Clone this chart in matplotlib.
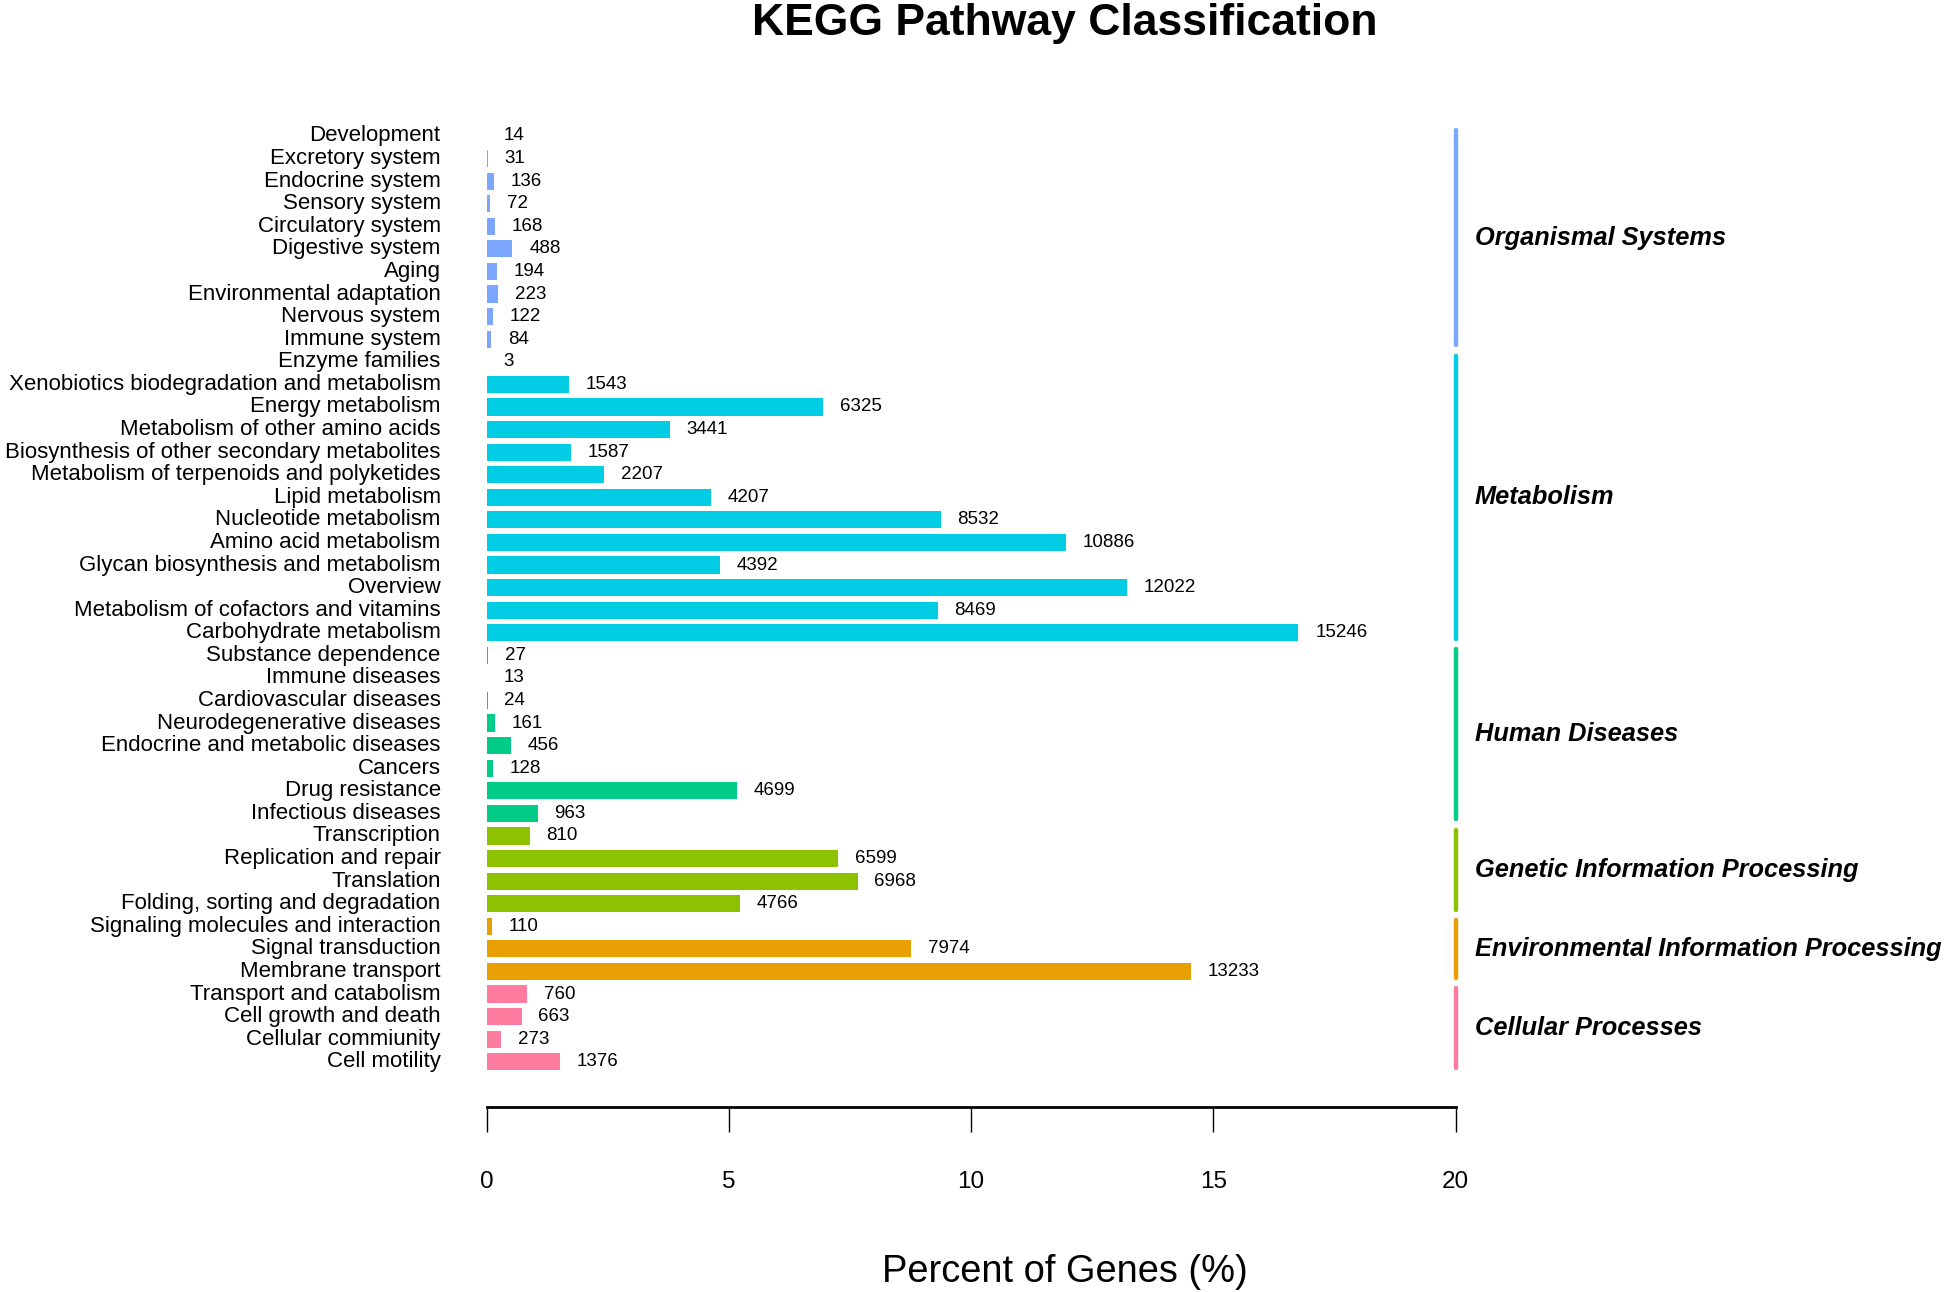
import matplotlib
matplotlib.use("Agg")
import matplotlib.pyplot as plt

plt.rcParams['font.family'] = ['Liberation Sans', 'DejaVu Sans']

# ---- data (top to bottom) ----
org_labels = ["Development", "Excretory system", "Endocrine system", "Sensory system",
              "Circulatory system", "Digestive system", "Aging", "Environmental adaptation",
              "Nervous system", "Immune system"]
org_counts = [14, 31, 136, 72, 168, 488, 194, 223, 122, 84]

met_labels = ["Enzyme families", "Xenobiotics biodegradation and metabolism", "Energy metabolism",
              "Metabolism of other amino acids", "Biosynthesis of other secondary metabolites",
              "Metabolism of terpenoids and polyketides", "Lipid metabolism",
              "Nucleotide metabolism", "Amino acid metabolism",
              "Glycan biosynthesis and metabolism", "Overview",
              "Metabolism of cofactors and vitamins", "Carbohydrate metabolism"]
met_counts = [3, 1543, 6325, 3441, 1587, 2207, 4207, 8532, 10886, 4392, 12022, 8469, 15246]

hd_labels = ["Substance dependence", "Immune diseases", "Cardiovascular diseases",
             "Neurodegenerative diseases", "Endocrine and metabolic diseases", "Cancers",
             "Drug resistance", "Infectious diseases"]
hd_counts = [27, 13, 24, 161, 456, 128, 4699, 963]

gen_labels = ["Transcription", "Replication and repair", "Translation",
              "Folding, sorting and degradation"]
gen_counts = [810, 6599, 6968, 4766]

env_labels = ["Signaling molecules and interaction", "Signal transduction", "Membrane transport"]
env_counts = [110, 7974, 13233]

cel_labels = ["Transport and catabolism", "Cell growth and death", "Cellular commiunity",
              "Cell motility"]
cel_counts = [760, 663, 273, 1376]

group_names = ["Organismal Systems", "Metabolism", "Human Diseases",
               "Genetic Information Processing", "Environmental Information Processing",
               "Cellular Processes"]
group_colors = ["#7BA7FF", "#00CCE3", "#00CC88", "#8DC200", "#E8A000", "#FF7BA0"]

total_genes = 91000  # denominator used for percentages
xticks = [0, 5, 10, 15, 20]

groups = [(org_labels, org_counts), (met_labels, met_counts), (hd_labels, hd_counts),
          (gen_labels, gen_counts), (env_labels, env_counts), (cel_labels, cel_counts)]

W, H = 1946, 1292
fig = plt.figure(figsize=(W / 100, H / 100), dpi=100)

x0_px, x1_px = 486.5, 1455.8
row0_px, step_px = 136.0, 22.58
axis_px = 1107.0
top_val = -1.0
bottom_val = (axis_px - row0_px) / step_px
top_px = row0_px + top_val * step_px

ax = fig.add_axes([x0_px / W, 1 - axis_px / H, (x1_px - x0_px) / W, (axis_px - top_px) / H])
ax.set_xlim(0, 20)
ax.set_ylim(bottom_val, top_val)

row = 0
for (labels, counts), gname, color in zip(groups, group_names, group_colors):
    start = row
    for lab, c in zip(labels, counts):
        pct = c / total_genes * 100
        ax.barh(row, pct, height=0.76, color=color, edgecolor='none')
        ax.annotate(str(c), xy=(pct, row), xytext=(12, 0), textcoords='offset points',
                    ha='left', va='center', fontsize=13.5)
        ax.annotate(lab, xy=(0, row), xytext=(-33, 0), textcoords='offset points',
                    ha='right', va='center', fontsize=16.0, annotation_clip=False)
        row += 1
    end = row - 1
    ax.plot([20, 20], [start - 0.27, end + 0.27], color=color, lw=3.2,
            solid_capstyle='round', clip_on=False)
    ax.annotate(gname, xy=(20, (start + end) / 2), xytext=(13.5, 0),
                textcoords='offset points', ha='left', va='center', fontsize=18.3,
                fontweight='bold', fontstyle='italic', annotation_clip=False)

for s in ['top', 'right', 'left']:
    ax.spines[s].set_visible(False)
ax.spines['bottom'].set_linewidth(2.0)
ax.spines['bottom'].set_bounds(0, 20)
ax.set_yticks([])
ax.set_xticks(xticks)
ax.set_xticklabels([str(t) for t in xticks], fontsize=17.5)
ax.tick_params(axis='x', length=18, width=1.0, pad=28, direction='out')

fig.text(1065 / W, 1 - 24 / H, "KEGG Pathway Classification", ha='center', va='center',
         fontsize=32, fontweight='bold')
fig.text(1065 / W, 1 - 1272 / H, "Percent of Genes (%)", ha='center', va='center',
         fontsize=27.4)

fig.savefig("out.png", dpi=100, facecolor='white')
